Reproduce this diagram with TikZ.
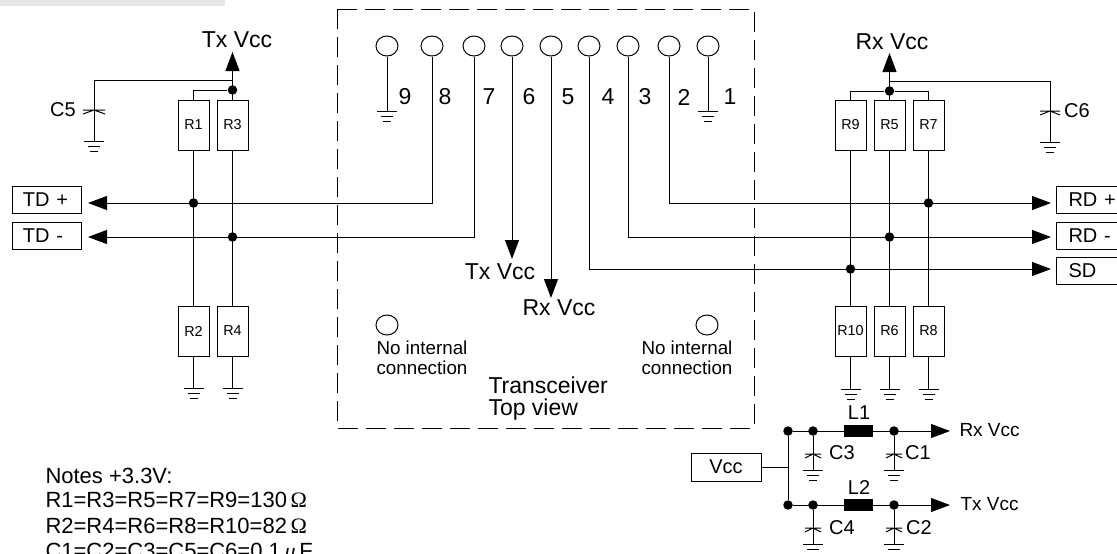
\documentclass[tikz,border=0pt]{standalone}
\usepackage{fontspec}
\setmainfont{Liberation Sans}
\newfontfamily\symfont{Liberation Serif}
\usepackage{tikz}
\usetikzlibrary{arrows.meta}
\usetikzlibrary{shapes.geometric}
\newcommand*{\szbig  }{\fontsize{23}{27}\selectfont}
\newcommand*{\szmid  }{\fontsize{20}{24}\selectfont}
\newcommand*{\szsmall}{\fontsize{18.8}{22}\selectfont}
\newcommand*{\szres  }{\fontsize{14.4}{17}\selectfont}
\newcommand*{\gnd}[1]{\draw (#1) +(-10,0) -- +(10,0) (#1) +(-6,5) -- +(6,5) (#1) +(-4,10) -- +(4,10);}
\newcommand*{\capsym}[2]{\draw (#1) +(-#2,0) -- +(#2,0) (#1) +(-#2,4) -- +(0,0) -- +(#2,4);}
\tikzset{
    wire/.style      = {line width=1pt},
    sigarrow/.style  = {-{Triangle[length=19pt,width=14pt]}},
    pinhole/.style   = {draw, ellipse, minimum width=22pt, minimum height=20pt, inner sep=0pt},
    resbox/.style    = {draw, minimum width=31pt, minimum height=50pt, inner sep=0pt, font=\szres},
    sigbox/.style    = {draw, minimum height=27pt, inner sep=0pt, font=\szmid},
    dot/.style       = {circle, fill=black, minimum size=9.5pt, inner sep=0pt},
    choke/.style     = {fill=black, minimum width=29pt, minimum height=12pt, inner sep=0pt},
    lbl/.style       = {inner sep=0pt, font=\szmid},
    lblbig/.style    = {inner sep=0pt, font=\szbig},
    lblsmall/.style  = {inner sep=0pt, font=\szsmall, anchor=west},
    lblout/.style    = {inner sep=0pt, font=\fontsize{19}{23}\selectfont, anchor=west},
    lblnote/.style   = {inner sep=0pt, font=\fontsize{22}{26}\selectfont, anchor=base west},
}
\begin{document}
\begin{tikzpicture}[x=1pt, y=-1pt, wire]
    \useasboundingbox (0,0) rectangle (1117,554);
    \fill [color=black!10] (0,0) rectangle (225,6);
    % transceiver outline
    \draw [dash pattern=on 20pt off 8pt] (337,9) rectangle (754,428);
    \node [pinhole] (p9) at (387,46) {};
    \node [pinhole] (p8) at (432,46) {};
    \node [pinhole] (p7) at (474,46) {};
    \node [pinhole] (p6) at (512,46) {};
    \node [pinhole] (p5) at (551,46) {};
    \node [pinhole] (p4) at (589,46) {};
    \node [pinhole] (p3) at (628,46) {};
    \node [pinhole] (p2) at (669,46) {};
    \node [pinhole] (p1) at (708,46) {};
    \node [lblbig] (n9) at (405,97) {9};
    \node [lblbig] (n8) at (445,97) {8};
    \node [lblbig] (n7) at (489,97) {7};
    \node [lblbig] (n6) at (529,97) {6};
    \node [lblbig] (n5) at (568,97) {5};
    \node [lblbig] (n4) at (608,97) {4};
    \node [lblbig] (n3) at (645,97) {3};
    \node [lblbig] (n2) at (684,97) {2};
    \node [lblbig] (n1) at (730,97) {1};
    \coordinate (g9) at (387,111);
    \coordinate (g1) at (708,111);
    \draw (p9) -- (g9); \gnd{g9}
    \draw (p1) -- (g1); \gnd{g1}
    \node [pinhole] (nc1) at (387,325) {};
    \node [pinhole] (nc2) at (707,325) {};
    \node [lblsmall] (nct1) at (376,348) {No internal};
    \node [lblsmall] (ncb1) at (376,368) {connection};
    \node [lblsmall] (nct2) at (641,348) {No internal};
    \node [lblsmall] (ncb2) at (641,368) {connection};
    \node [lblbig, anchor=west] (tt) at (488,385) {Transceiver};
    \node [lblbig, anchor=west] (tv) at (488,410) {Top view};
    % supply pins
    \node [lblbig] (txin) at (500,272) {Tx Vcc};
    \node [lblbig] (rxin) at (559,308) {Rx Vcc};
    \coordinate (txtip) at (512,259);
    \coordinate (rxtip) at (551,298);
    \draw [sigarrow] (p6) -- (txtip);
    \draw [sigarrow] (p5) -- (rxtip);
    % left side
    \node [sigbox, minimum width=69pt, text width=47pt] (tdp) at (46.5,199.5) {TD +};
    \node [sigbox, minimum width=69pt, text width=47pt] (tdm) at (46.5,235.5) {TD -};
    \node [resbox] (R1) at (193.5,125) {R1};
    \node [resbox] (R3) at (232.5,125) {R3};
    \node [resbox] (R2) at (193.5,331) {R2};
    \node [resbox] (R4) at (232.5,331) {R4};
    \coordinate (tdptip) at (88,203);
    \coordinate (tdmtip) at (88,237);
    \draw [sigarrow] (p8.south) |- (tdptip);
    \draw [sigarrow] (p7.south) |- (tdmtip);
    \draw (R1) -- (R2);
    \draw (R3) -- (R4);
    \node [dot] (jtdp) at (193.5,203) {};
    \node [dot] (jtdm) at (232.5,237) {};
    \node [dot] (jtx) at (232.5,90) {};
    \node [lblbig] (txv) at (237,40) {Tx Vcc};
    \coordinate (txtop) at (232.5,52);
    \draw [sigarrow] (R3.north) -- (txtop);
    \draw (jtx) -| (R1.north);
    \coordinate (c5) at (94,110);
    \coordinate (g5) at (94,141);
    \draw (232.5,80) -| (g5); \capsym{c5}{11} \gnd{g5}
    \node [lbl] (c5l) at (63,110) {C5};
    \coordinate (g2) at (193.5,388);
    \coordinate (g4) at (232.5,388);
    \draw (R2) -- (g2); \gnd{g2}
    \draw (R4) -- (g4); \gnd{g4}
    % right side
    \node [sigbox, anchor=west, minimum width=72pt, text width=48pt] (rdp) at (1056,199.5) {RD +};
    \node [sigbox, anchor=west, minimum width=72pt, text width=48pt] (rdm) at (1056,235.5) {RD -};
    \node [sigbox, anchor=west, minimum width=72pt, text width=48pt] (sd)  at (1056,270.5) {SD};
    \node [resbox] (R9)  at (850.5,125) {R9};
    \node [resbox] (R5)  at (889.5,125) {R5};
    \node [resbox] (R7)  at (928.5,125) {R7};
    \node [resbox] (R10) at (850.5,331) {R10};
    \node [resbox] (R6)  at (889.5,331) {R6};
    \node [resbox] (R8)  at (928.5,331) {R8};
    \coordinate (rdptip) at (1051,203);
    \coordinate (rdmtip) at (1051,237);
    \coordinate (sdtip)  at (1051,269);
    \draw [sigarrow] (p2.south) |- (rdptip);
    \draw [sigarrow] (p3.south) |- (rdmtip);
    \draw [sigarrow] (p4.south) |- (sdtip);
    \draw (R9) -- (R10);
    \draw (R5) -- (R6);
    \draw (R7) -- (R8);
    \node [dot] (jrdp) at (928.5,203) {};
    \node [dot] (jrdm) at (889.5,237) {};
    \node [dot] (jsd)  at (850.5,269) {};
    \node [dot] (jrx)  at (889.5,91) {};
    \node [lblbig] (rxv) at (892,42) {Rx Vcc};
    \coordinate (rxtop) at (889.5,53);
    \draw [sigarrow] (R5.north) -- (rxtop);
    \draw (jrx) -| (R9.north);
    \draw (jrx) -| (R7.north);
    \coordinate (c6) at (1050,111);
    \coordinate (g6) at (1050,142);
    \draw (889.5,81) -| (g6); \capsym{c6}{10} \gnd{g6}
    \node [lbl] (c6l) at (1077,111) {C6};
    \coordinate (g10) at (850.5,389);
    \coordinate (g7)  at (889.5,389);
    \coordinate (g8)  at (928.5,389);
    \draw (R10) -- (g10); \gnd{g10}
    \draw (R6)  -- (g7);  \gnd{g7}
    \draw (R8)  -- (g8);  \gnd{g8}
    % supply filter
    \node [sigbox, minimum width=70pt, minimum height=28pt] (vcc) at (726,467) {Vcc};
    \node [dot] (ja) at (788,431) {};
    \node [dot] (jb) at (788,505) {};
    \node [dot] (jc3) at (813,431) {};
    \node [dot] (jc4) at (813,505) {};
    \node [dot] (jc1) at (894,431) {};
    \node [dot] (jc2) at (894,505) {};
    \node [choke] (L1) at (858.5,431) {};
    \node [choke] (L2) at (858.5,505) {};
    \node [lbl] (L1l) at (859,413) {L1};
    \node [lbl] (L2l) at (859,488) {L2};
    \coordinate (rxend) at (950,431);
    \coordinate (txend) at (950,505);
    \draw (ja) -- (jb);
    \draw (vcc) -- (788,467);
    \draw [sigarrow] (ja) -- (rxend);
    \draw [sigarrow] (jb) -- (txend);
    \node [lblout] (rxo) at (959,430) {Rx Vcc};
    \node [lblout] (txo) at (960,504) {Tx Vcc};
    \coordinate (c3) at (813,454);
    \coordinate (c1) at (894,454);
    \coordinate (c4) at (813,528);
    \coordinate (c2) at (894,528);
    \coordinate (g33) at (813,470);
    \coordinate (g31) at (894,470);
    \coordinate (g34) at (813,544);
    \coordinate (g32) at (894,544);
    \draw (jc3) -- (g33); \capsym{c3}{8} \gnd{g33}
    \draw (jc1) -- (g31); \capsym{c1}{8} \gnd{g31}
    \draw (jc4) -- (g34); \capsym{c4}{8} \gnd{g34}
    \draw (jc2) -- (g32); \capsym{c2}{8} \gnd{g32}
    \node [lbl] (c3l) at (842,453) {C3};
    \node [lbl] (c1l) at (918,453) {C1};
    \node [lbl] (c4l) at (842,528) {C4};
    \node [lbl] (c2l) at (919,528) {C2};
    % notes
    \node [lblnote] (note0) at (45,483) {Notes +3.3V:};
    \node [lblnote] (note1) at (45,507) {R1=R3=R5=R7=R9=130\,{\symfont Ω}};
    \node [lblnote] (note2) at (45,533) {R2=R4=R6=R8=R10=82\,{\symfont Ω}};
    \node [lblnote] (note3) at (45,558) {C1=C2=C3=C5=C6=0.1\,{\symfont\itshape μ}\,F};
\end{tikzpicture}
\end{document}
